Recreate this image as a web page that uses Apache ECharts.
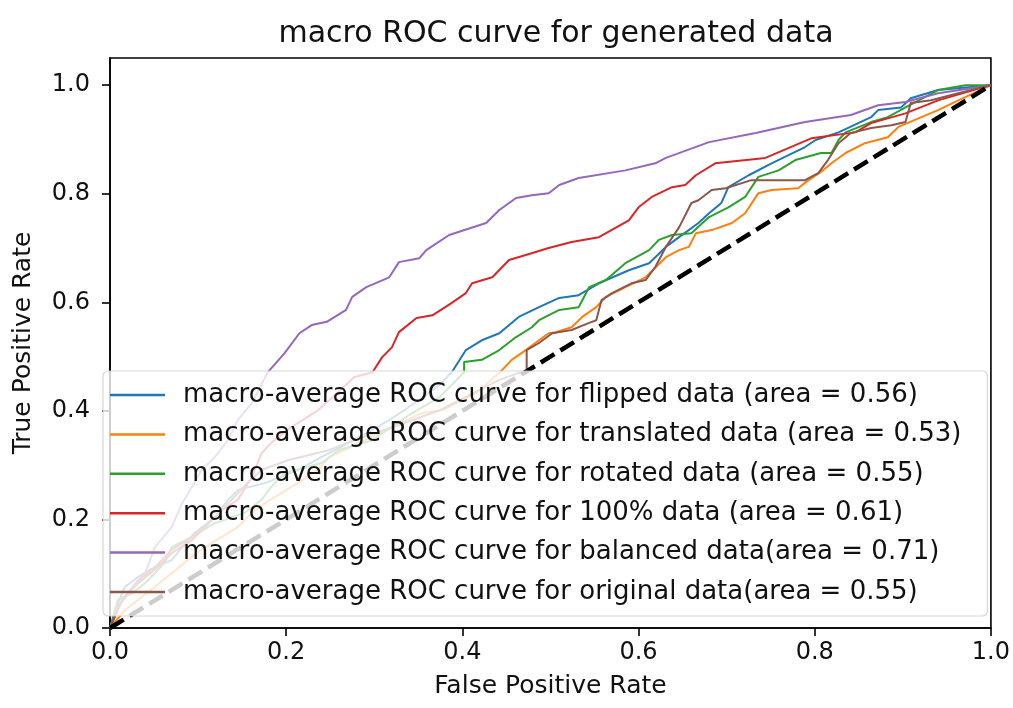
<!DOCTYPE html>
<html>
<head>
<meta charset="utf-8">
<script src="https://cdn.jsdelivr.net/npm/echarts@6/dist/echarts.min.js"></script>
<style>
html,body{margin:0;padding:0;background:#fff;}
#chart{width:1013px;height:708px;}
</style>
</head>
<body>
<div id="chart"></div>
<script>
const titleText = 'macro ROC curve for generated data';
const xAxisName = 'False Positive Rate';
const yAxisName = 'True Positive Rate';
const tickValues = [0, 0.2, 0.4, 0.6, 0.8, 1];

const seriesNames = [
  'macro-average ROC curve for flipped data (area = 0.56)',
  'macro-average ROC curve for translated data (area = 0.53)',
  'macro-average ROC curve for rotated data (area = 0.55)',
  'macro-average ROC curve for 100% data (area = 0.61)',
  'macro-average ROC curve for balanced data(area = 0.71)',
  'macro-average ROC curve for original data(area = 0.55)'
];
const seriesColors = ['#1f77b4', '#ff7f0e', '#2ca02c', '#d62728', '#9467bd', '#8c564b'];

// [FPR, TPR] pairs
const flipped = [[0,0],[0.009,0.046],[0.017,0.076],[0.032,0.094],[0.051,0.112],[0.070,0.125],[0.082,0.149],[0.096,0.175],[0.119,0.204],[0.134,0.236],[0.145,0.254],[0.176,0.267],[0.213,0.291],[0.240,0.315],[0.277,0.346],[0.317,0.383],[0.351,0.420],[0.374,0.448],[0.388,0.471],[0.404,0.512],[0.422,0.530],[0.442,0.543],[0.464,0.573],[0.487,0.591],[0.510,0.608],[0.532,0.613],[0.555,0.635],[0.589,0.659],[0.612,0.672],[0.631,0.702],[0.646,0.720],[0.668,0.746],[0.680,0.764],[0.694,0.783],[0.702,0.812],[0.725,0.834],[0.751,0.856],[0.789,0.886],[0.801,0.899],[0.827,0.913],[0.864,0.941],[0.872,0.954],[0.898,0.959],[0.909,0.976],[0.940,0.991],[1,1]];
const translated = [[0,0],[0.017,0.033],[0.032,0.052],[0.051,0.076],[0.070,0.101],[0.088,0.125],[0.108,0.149],[0.127,0.168],[0.145,0.186],[0.161,0.212],[0.176,0.230],[0.206,0.260],[0.236,0.291],[0.249,0.315],[0.272,0.333],[0.314,0.365],[0.354,0.396],[0.377,0.401],[0.416,0.433],[0.445,0.475],[0.456,0.494],[0.472,0.512],[0.487,0.530],[0.498,0.543],[0.506,0.545],[0.524,0.554],[0.536,0.573],[0.552,0.591],[0.563,0.610],[0.585,0.628],[0.608,0.646],[0.631,0.683],[0.646,0.696],[0.657,0.702],[0.665,0.727],[0.683,0.733],[0.706,0.746],[0.721,0.764],[0.736,0.801],[0.751,0.807],[0.781,0.810],[0.793,0.825],[0.807,0.840],[0.819,0.856],[0.835,0.875],[0.857,0.893],[0.883,0.904],[0.895,0.923],[0.921,0.941],[0.940,0.954],[0.963,0.972],[1,1]];
const rotated = [[0,0],[0.009,0.052],[0.025,0.064],[0.040,0.083],[0.051,0.101],[0.062,0.120],[0.070,0.149],[0.093,0.168],[0.119,0.193],[0.153,0.212],[0.172,0.236],[0.183,0.260],[0.198,0.285],[0.240,0.304],[0.260,0.328],[0.298,0.346],[0.343,0.396],[0.374,0.425],[0.402,0.471],[0.402,0.490],[0.422,0.494],[0.442,0.512],[0.461,0.536],[0.479,0.554],[0.487,0.567],[0.510,0.586],[0.532,0.591],[0.544,0.628],[0.563,0.641],[0.585,0.672],[0.612,0.696],[0.623,0.715],[0.638,0.724],[0.660,0.727],[0.680,0.757],[0.702,0.775],[0.721,0.794],[0.736,0.831],[0.759,0.843],[0.778,0.862],[0.807,0.875],[0.819,0.875],[0.827,0.899],[0.835,0.913],[0.864,0.932],[0.883,0.941],[0.903,0.959],[0.940,0.991],[0.971,1.0],[1,1]];
const full100 = [[0,0],[0.009,0.040],[0.020,0.064],[0.036,0.088],[0.054,0.112],[0.070,0.138],[0.093,0.162],[0.108,0.186],[0.127,0.217],[0.145,0.236],[0.161,0.278],[0.172,0.322],[0.183,0.341],[0.206,0.370],[0.236,0.401],[0.258,0.433],[0.277,0.462],[0.298,0.471],[0.309,0.499],[0.320,0.517],[0.328,0.545],[0.348,0.571],[0.366,0.576],[0.388,0.599],[0.404,0.617],[0.411,0.635],[0.434,0.646],[0.453,0.678],[0.472,0.687],[0.498,0.700],[0.524,0.711],[0.555,0.720],[0.589,0.751],[0.600,0.775],[0.615,0.794],[0.638,0.812],[0.653,0.816],[0.665,0.834],[0.687,0.856],[0.744,0.866],[0.796,0.902],[0.846,0.913],[0.864,0.930],[0.903,0.948],[0.940,0.972],[1,1]];
const balanced = [[0,0],[0.009,0.039],[0.025,0.070],[0.040,0.101],[0.051,0.149],[0.070,0.186],[0.082,0.230],[0.104,0.291],[0.119,0.315],[0.134,0.346],[0.145,0.383],[0.161,0.414],[0.179,0.471],[0.198,0.506],[0.215,0.543],[0.229,0.558],[0.246,0.564],[0.268,0.586],[0.275,0.610],[0.291,0.628],[0.317,0.646],[0.328,0.674],[0.351,0.681],[0.359,0.696],[0.385,0.724],[0.427,0.746],[0.442,0.770],[0.461,0.792],[0.479,0.797],[0.498,0.801],[0.510,0.816],[0.532,0.829],[0.585,0.843],[0.619,0.856],[0.631,0.866],[0.680,0.895],[0.733,0.912],[0.789,0.932],[0.841,0.945],[0.872,0.963],[0.903,0.969],[0.940,0.985],[1,1]];
const original = [[0,0],[0.014,0.052],[0.032,0.088],[0.051,0.112],[0.070,0.144],[0.093,0.168],[0.119,0.204],[0.138,0.236],[0.156,0.267],[0.172,0.291],[0.202,0.309],[0.249,0.328],[0.277,0.346],[0.328,0.374],[0.374,0.401],[0.408,0.429],[0.442,0.457],[0.464,0.470],[0.473,0.471],[0.473,0.512],[0.487,0.525],[0.502,0.543],[0.524,0.549],[0.544,0.562],[0.552,0.567],[0.558,0.604],[0.570,0.617],[0.592,0.635],[0.608,0.641],[0.619,0.665],[0.631,0.702],[0.646,0.738],[0.660,0.783],[0.668,0.788],[0.683,0.807],[0.699,0.810],[0.728,0.825],[0.789,0.825],[0.804,0.838],[0.815,0.862],[0.827,0.893],[0.841,0.912],[0.864,0.921],[0.887,0.926],[0.903,0.932],[0.909,0.967],[0.932,0.972],[0.963,0.985],[1,1]];
const chance = [[0,0],[1,1]];

const curves = [flipped, translated, rotated, full100, balanced, original];

const FONT = 'DejaVu Sans';
const TXT = '#111';

const series = curves.map((d, i) => ({
  name: seriesNames[i],
  type: 'line',
  data: d,
  symbol: 'none',
  showSymbol: false,
  smooth: false,
  z: 2,
  lineStyle: { color: seriesColors[i], width: 2 },
  itemStyle: { color: seriesColors[i] },
  emphasis: { disabled: true }
}));
series.push({
  name: 'chance',
  type: 'line',
  data: chance,
  symbol: 'none',
  z: 3,
  lineStyle: { color: '#000', width: 4.5, type: [16, 7], cap: 'butt' },
  itemStyle: { color: '#000' },
  emphasis: { disabled: true }
});

const chart = echarts.init(document.getElementById('chart'), null, { renderer: 'canvas' });
chart.setOption({
  animation: false,
  backgroundColor: '#fff',
  title: {
    text: titleText,
    left: 551,
    top: 14,
    textAlign: 'center',
    textStyle: { fontFamily: FONT, fontSize: 30, fontWeight: 'normal', color: TXT }
  },
  grid: {
    left: 110, right: 20, top: 58, bottom: 80,
    show: true, borderColor: '#000', borderWidth: 1.6, backgroundColor: 'transparent'
  },
  legend: {
    data: seriesNames,
    orient: 'vertical',
    left: 103,
    top: 371,
    icon: 'rect',
    itemWidth: 55,
    itemHeight: 2.5,
    itemGap: 13.4,
    padding: [11, 26, 11, 7],
    backgroundColor: 'rgba(255,255,255,0.8)',
    borderColor: 'rgba(204,204,204,0.8)',
    borderWidth: 1.2,
    borderRadius: 5,
    selectedMode: false,
    textStyle: { fontFamily: FONT, fontSize: 26, lineHeight: 26, color: TXT, padding: [0, 0, 0, 13] },
    z: 10
  },
  xAxis: {
    type: 'value', min: 0, max: 1, interval: 0.2,
    name: xAxisName, nameLocation: 'middle', nameGap: 46,
    nameTextStyle: { fontFamily: FONT, fontSize: 25, color: TXT },
    axisLine: { show: true, onZero: false, lineStyle: { color: '#000', width: 1.6 } },
    axisTick: { show: true, length: 8, inside: false, lineStyle: { color: '#000', width: 1.6 } },
    axisLabel: { fontFamily: FONT, fontSize: 24, color: TXT, margin: 13, formatter: v => v.toFixed(1) },
    splitLine: { show: false }
  },
  yAxis: {
    type: 'value', min: 0, max: 1.05, interval: 0.2,
    name: yAxisName, nameLocation: 'middle', nameGap: 74,
    nameTextStyle: { fontFamily: FONT, fontSize: 25, color: TXT },
    axisLine: { show: true, onZero: false, lineStyle: { color: '#000', width: 1.6 } },
    axisTick: { show: true, length: 8, inside: false, customValues: tickValues, lineStyle: { color: '#000', width: 1.6 } },
    axisLabel: { fontFamily: FONT, fontSize: 24, color: TXT, margin: 20, customValues: tickValues, formatter: v => v.toFixed(1) },
    splitLine: { show: false }
  },
  series: series
});
</script>
</body>
</html>
